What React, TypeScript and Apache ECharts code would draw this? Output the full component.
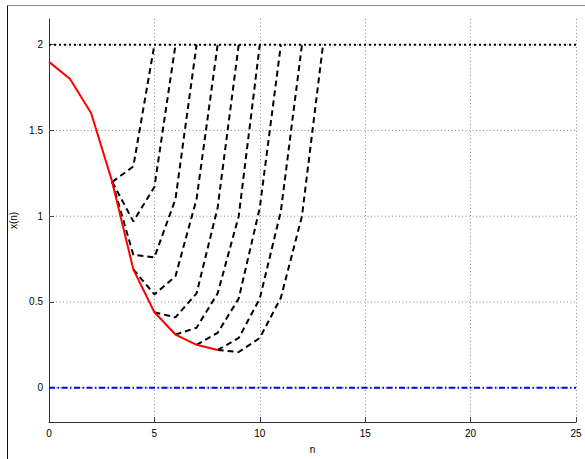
import React, { useEffect, useRef } from "react";
import * as echarts from "echarts";

// Optimal trajectory (red), starting at n = 0
const redStart = 0;
const redValues = [1.9, 1.8, 1.6, 1.2, 0.69, 0.44, 0.31, 0.25, 0.22];

// Dashed branch trajectories: start index and values
const branchStarts = [3, 3, 3, 4, 5, 6, 7, 8, 8];
const branch1 = [1.2, 1.29, 2];
const branch2 = [1.2, 0.97, 1.17, 2];
const branch3 = [1.2, 0.775, 0.76, 1.1, 2];
const branch4 = [0.69, 0.544, 0.65, 1.1, 2];
const branch5 = [0.44, 0.41, 0.55, 1.05, 2];
const branch6 = [0.31, 0.35, 0.55, 1.0, 2];
const branch7 = [0.25, 0.32, 0.52, 1.05, 2];
const branch8 = [0.22, 0.29, 0.52, 1.03, 2];
const branch9 = [0.22, 0.208, 0.29, 0.525, 1.0, 2];
const branches = [branch1, branch2, branch3, branch4, branch5, branch6, branch7, branch8, branch9];

// Reference levels
const upperLevel = 2;
const lowerLevel = 0;
const xRange = [0, 25];

// Axis ticks
const yTicks = [0, 0.5, 1, 1.5, 2];
const yMin = -0.2;
const yMax = 2.15;

const toPairs = (start: number, vals: number[]) => vals.map((v, i) => [start + i, v]);

export default function App() {
  const ref = useRef<HTMLDivElement>(null);
  useEffect(() => {
    if (!ref.current) return;
    const chart = echarts.init(ref.current, null, { renderer: "svg" });
    const font = "Liberation Sans, Arial, Helvetica, sans-serif";

    const gridSeries = yTicks.map((t) => ({
      type: "line",
      data: [[xRange[0], t], [xRange[1], t]],
      symbol: "none",
      silent: true,
      z: 1,
      lineStyle: { color: "#8a8a8a", width: 1, type: [1, 2.5] },
    }));

    const branchSeries = branches.map((b, i) => ({
      type: "line",
      data: toPairs(branchStarts[i], b),
      symbol: "none",
      z: 3,
      lineStyle: { color: "#000", width: 2, type: [6, 4] },
    }));

    chart.setOption({
      animation: false,
      backgroundColor: "#fff",
      grid: { left: 49, right: 9, top: 19, bottom: 34 },
      graphic: [
        { type: "line", shape: { x1: 7.5, y1: 5, x2: 7.5, y2: 459 }, style: { stroke: "#111", lineWidth: 1 } },
        { type: "line", shape: { x1: 7, y1: 5.5, x2: 585, y2: 5.5 }, style: { stroke: "#888", lineWidth: 1 } },
      ],
      xAxis: {
        type: "value",
        min: xRange[0],
        max: xRange[1],
        interval: 5,
        name: "n",
        nameLocation: "middle",
        nameGap: 22,
        nameTextStyle: { color: "#000", fontSize: 10, fontFamily: font },
        axisLine: { show: true, onZero: false, lineStyle: { color: "#333", width: 1 } },
        axisTick: { show: true, inside: true, length: 5, lineStyle: { color: "#333" } },
        axisLabel: { color: "#000", fontSize: 10, margin: 6, fontFamily: font },
        splitLine: { show: true, lineStyle: { color: "#8a8a8a", width: 1, type: [1, 2.5] } },
      },
      yAxis: {
        type: "value",
        min: yMin,
        max: yMax,
        name: "x(n)",
        nameLocation: "middle",
        nameGap: 30,
        nameTextStyle: { color: "#000", fontSize: 10, fontFamily: font },
        axisLine: { show: true, onZero: false, lineStyle: { color: "#333", width: 1 } },
        axisTick: { show: true, inside: true, length: 5, customValues: yTicks, lineStyle: { color: "#333" } },
        axisLabel: { color: "#000", fontSize: 10, margin: 6, fontFamily: font, customValues: yTicks },
        splitLine: { show: false },
      },
      series: [
        ...gridSeries,
        {
          type: "line",
          data: [[xRange[0], lowerLevel], [xRange[1], lowerLevel]],
          symbol: "none",
          z: 2,
          lineStyle: { color: "#0000ff", width: 2, type: [6, 2.5, 1.5, 2.5] },
        },
        {
          type: "line",
          data: [[xRange[0], upperLevel], [xRange[1], upperLevel]],
          symbol: "none",
          z: 2,
          lineStyle: { color: "#000", width: 2, type: [2, 3] },
        },
        ...branchSeries,
        {
          type: "line",
          data: toPairs(redStart, redValues),
          symbol: "none",
          z: 4,
          lineStyle: { color: "#ff0000", width: 2 },
        },
      ],
    });
    return () => chart.dispose();
  }, []);
  return (
    <div
      ref={ref}
      style={{ position: "absolute", left: 0, top: 0, width: 585, height: 459, background: "#fff" }}
    />
  );
}
